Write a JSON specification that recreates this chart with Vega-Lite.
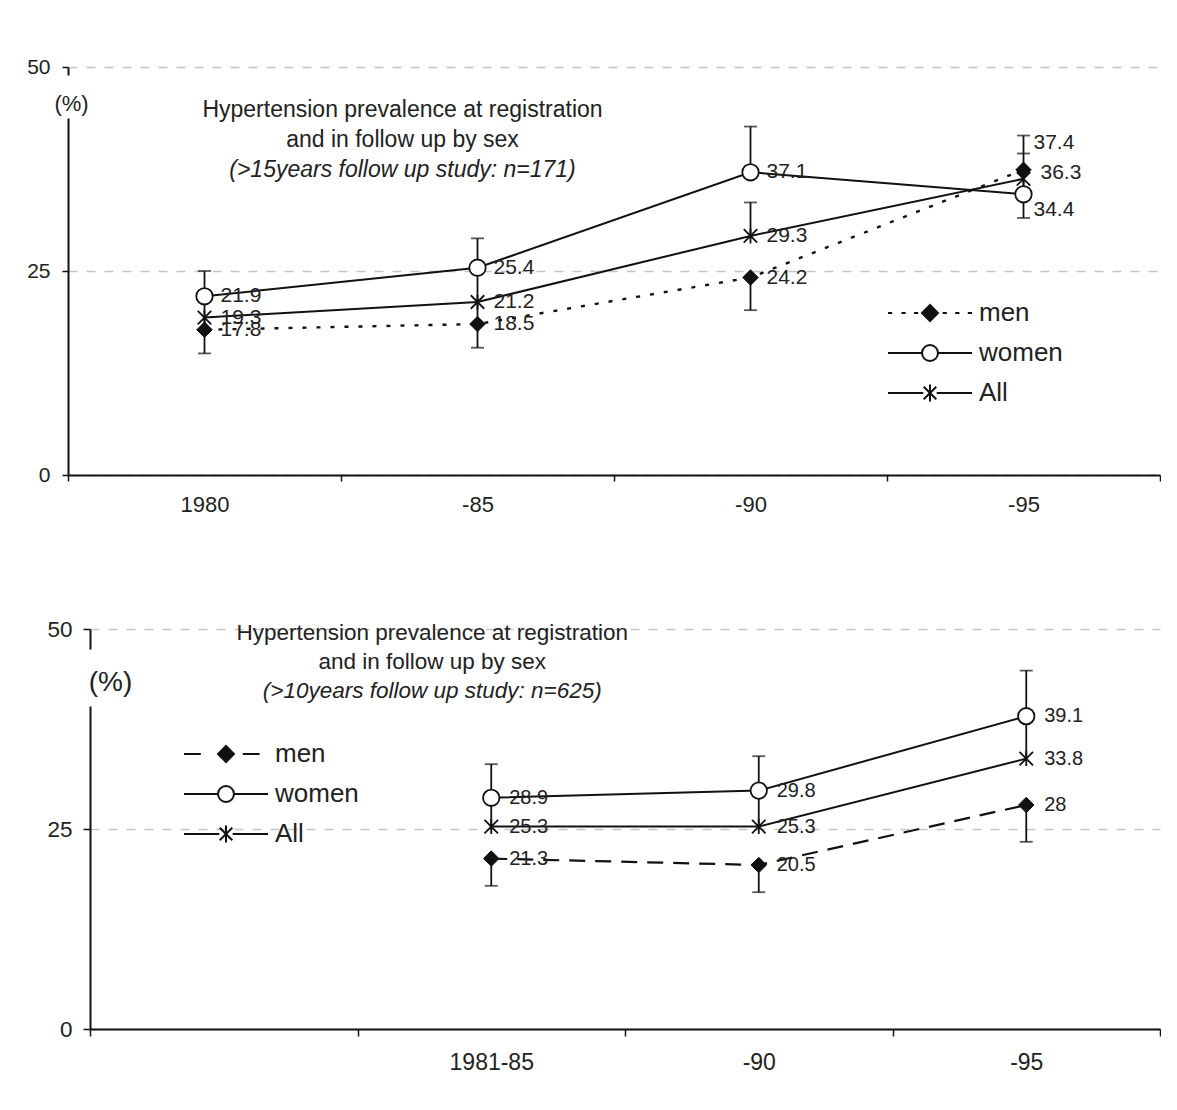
{
  "$schema": "https://vega.github.io/schema/vega-lite/v6.json",
  "background": "white",
  "padding": {"left": 26, "top": 56, "right": 0, "bottom": 0},
  "spacing": 103,
  "config": {"view": {"stroke": null}, "font": "Liberation Sans"},
  "resolve": {"scale": {"shape": "independent", "fill": "independent", "stroke": "independent"}, "legend": {"shape": "independent", "fill": "independent", "stroke": "independent"}},
  "datasets": {
    "top": [
      {"x": "1980", "series": "men", "value": 17.8},
      {"x": "-85", "series": "men", "value": 18.5},
      {"x": "-90", "series": "men", "value": 24.2},
      {"x": "-95", "series": "men", "value": 37.4},
      {"x": "1980", "series": "women", "value": 21.9},
      {"x": "-85", "series": "women", "value": 25.4},
      {"x": "-90", "series": "women", "value": 37.1},
      {"x": "-95", "series": "women", "value": 34.4},
      {"x": "1980", "series": "All", "value": 19.3},
      {"x": "-85", "series": "All", "value": 21.2},
      {"x": "-90", "series": "All", "value": 29.3},
      {"x": "-95", "series": "All", "value": 36.3}
    ],
    "topErr": [
      {"x": "1980", "lo": 14.9, "hi": 25.0},
      {"x": "-85", "lo": 15.6, "hi": 29.0},
      {"x": "-90", "lo": 37.1, "hi": 42.7},
      {"x": "-90", "lo": 29.3, "hi": 33.4},
      {"x": "-90", "lo": 20.2, "hi": 24.2},
      {"x": "-95", "lo": 31.5, "hi": 41.6}
    ],
    "topCap": [
      {"x": "1980", "value": 14.9},
      {"x": "1980", "value": 25.0},
      {"x": "-85", "value": 15.6},
      {"x": "-85", "value": 29.0},
      {"x": "-90", "value": 42.7},
      {"x": "-90", "value": 33.4},
      {"x": "-90", "value": 20.2},
      {"x": "-95", "value": 41.6},
      {"x": "-95", "value": 39.4},
      {"x": "-95", "value": 31.5}
    ],
    "bot": [
      {"x": "1981-85", "series": "men", "value": 21.3},
      {"x": "-90", "series": "men", "value": 20.5},
      {"x": "-95", "series": "men", "value": 28},
      {"x": "1981-85", "series": "women", "value": 28.9},
      {"x": "-90", "series": "women", "value": 29.8},
      {"x": "-95", "series": "women", "value": 39.1},
      {"x": "1981-85", "series": "All", "value": 25.3},
      {"x": "-90", "series": "All", "value": 25.3},
      {"x": "-95", "series": "All", "value": 33.8}
    ],
    "botErr": [
      {"x": "1981-85", "lo": 25.3, "hi": 33.1},
      {"x": "1981-85", "lo": 17.9, "hi": 21.3},
      {"x": "-90", "lo": 25.3, "hi": 34.1},
      {"x": "-90", "lo": 17.1, "hi": 20.5},
      {"x": "-95", "lo": 33.8, "hi": 44.8},
      {"x": "-95", "lo": 23.4, "hi": 28}
    ],
    "botCap": [
      {"x": "1981-85", "value": 33.1},
      {"x": "1981-85", "value": 17.9},
      {"x": "-90", "value": 34.1},
      {"x": "-90", "value": 17.1},
      {"x": "-95", "value": 44.8},
      {"x": "-95", "value": 23.4}
    ]
  },
  "vconcat": [
    {
      "width": 1092,
      "height": 408,
      "encoding": {
        "x": {"field": "x", "type": "nominal",
          "scale": {"type": "band", "domain": ["1980", "-85", "-90", "-95"], "paddingInner": 0, "paddingOuter": 0},
          "axis": {"title": null, "tickBand": "extent", "tickSize": 6, "tickColor": "#111", "tickWidth": 1.5, "domainColor": "#111", "domainWidth": 2, "labelPadding": 13, "labelFontSize": 22, "labelFont": "Liberation Sans", "labelColor": "#222", "labelAngle": 0, "grid": false}}
      },
      "layer": [
        {"data": {"name": "topErr"},
         "mark": {"type": "rule", "color": "#111", "strokeWidth": 1.8},
         "encoding": {
           "y": {"field": "lo", "type": "quantitative", "title": "(%)", "scale": {"domain": [0, 50], "nice": false},
             "axis": {"titleAngle": 0, "titleX": 3, "titleY": 36, "titleAlign": "center", "titleBaseline": "middle", "titleFontSize": 22, "titleFontWeight": "normal", "titleFont": "Liberation Sans", "titleColor": "#222",
               "values": [0, 25, 50], "tickSize": 6, "tickColor": "#111", "tickWidth": 1.5, "labelPadding": 12, "labelFontSize": 21, "labelFont": "Liberation Sans", "labelColor": "#222",
               "domainColor": "#111", "domainWidth": 2, "domainDash": [357, 43, 9, 400],
               "grid": true, "gridDash": [9, 9], "gridColor": "#c4c4c4", "gridWidth": 1.5}},
           "y2": {"field": "hi"}}},
        {"data": {"name": "topCap"},
         "mark": {"type": "tick", "orient": "horizontal", "size": 13, "thickness": 1.8, "color": "#111"},
         "encoding": {"y": {"field": "value", "type": "quantitative", "title": "(%)", "scale": {"domain": [0, 50], "nice": false}}}},
        {"data": {"name": "top"},
         "transform": [{"filter": "datum.series != 'men'"}],
         "mark": {"type": "line", "color": "#111", "strokeWidth": 2},
         "encoding": {"y": {"field": "value", "type": "quantitative", "title": "(%)", "scale": {"domain": [0, 50], "nice": false}}, "detail": {"field": "series"}, "order": {"value": null}}},
        {"data": {"name": "top"},
         "transform": [{"filter": "datum.series == 'men'"}],
         "mark": {"type": "line", "color": "#111", "strokeWidth": 2.4, "strokeDash": [4, 10]},
         "encoding": {"y": {"field": "value", "type": "quantitative", "title": "(%)", "scale": {"domain": [0, 50], "nice": false}}, "order": {"value": null}}},
        {"data": {"name": "top"},
         "transform": [{"filter": "datum.series == 'All'"}],
         "mark": {"type": "point", "shape": "M-0.9,-0.9L0.9,0.9M-0.9,0.9L0.9,-0.9M0,-1V1", "filled": false, "stroke": "#111", "strokeWidth": 1.8, "size": 225, "opacity": 1},
         "encoding": {"y": {"field": "value", "type": "quantitative", "title": "(%)", "scale": {"domain": [0, 50], "nice": false}}}},
        {"data": {"name": "top"},
         "transform": [{"filter": "datum.series == 'women'"}],
         "mark": {"type": "point", "shape": "circle", "filled": true, "fill": "#fff", "stroke": "#111", "strokeWidth": 1.8, "size": 270, "opacity": 1},
         "encoding": {"y": {"field": "value", "type": "quantitative", "title": "(%)", "scale": {"domain": [0, 50], "nice": false}}}},
        {"data": {"name": "top"},
         "transform": [{"filter": "datum.series == 'men'"}],
         "mark": {"type": "point", "shape": "diamond", "filled": true, "fill": "#111", "stroke": "#111", "strokeWidth": 1, "size": 240, "opacity": 1},
         "encoding": {"y": {"field": "value", "type": "quantitative", "title": "(%)", "scale": {"domain": [0, 50], "nice": false}}}},
        {"data": {"name": "top"},
         "transform": [{"filter": "datum.x != '-95'"}],
         "mark": {"type": "text", "align": "left", "baseline": "middle", "dx": 16, "fontSize": 21, "font": "Liberation Sans", "color": "#222"},
         "encoding": {"y": {"field": "value", "type": "quantitative", "title": "(%)", "scale": {"domain": [0, 50], "nice": false}}, "text": {"field": "value", "type": "nominal"}}},
        {"data": {"name": "top"},
         "transform": [{"filter": "datum.x == '-95' && datum.series == 'men'"}],
         "mark": {"type": "text", "align": "left", "baseline": "middle", "dx": 10, "dy": -27, "fontSize": 21, "font": "Liberation Sans", "color": "#222"},
         "encoding": {"y": {"field": "value", "type": "quantitative", "title": "(%)", "scale": {"domain": [0, 50], "nice": false}}, "text": {"field": "value", "type": "nominal"}}},
        {"data": {"name": "top"},
         "transform": [{"filter": "datum.x == '-95' && datum.series == 'All'"}],
         "mark": {"type": "text", "align": "left", "baseline": "middle", "dx": 17, "dy": -6, "fontSize": 21, "font": "Liberation Sans", "color": "#222"},
         "encoding": {"y": {"field": "value", "type": "quantitative", "title": "(%)", "scale": {"domain": [0, 50], "nice": false}}, "text": {"field": "value", "type": "nominal"}}},
        {"data": {"name": "top"},
         "transform": [{"filter": "datum.x == '-95' && datum.series == 'women'"}],
         "mark": {"type": "text", "align": "left", "baseline": "middle", "dx": 10, "dy": 16, "fontSize": 21, "font": "Liberation Sans", "color": "#222"},
         "encoding": {"y": {"field": "value", "type": "quantitative", "title": "(%)", "scale": {"domain": [0, 50], "nice": false}}, "text": {"field": "value", "type": "nominal"}}},
        {"data": {"name": "top"},
         "transform": [{"filter": "datum.x == '1980' && datum.series == 'men'"}],
         "mark": {"type": "text", "text": "Hypertension prevalence at registration", "align": "center", "baseline": "middle", "dx": -75, "fontSize": 23, "font": "Liberation Sans", "color": "#222"},
         "encoding": {"x": {"datum": "-85"}, "y": {"datum": 44.7}}},
        {"data": {"name": "top"},
         "transform": [{"filter": "datum.x == '1980' && datum.series == 'men'"}],
         "mark": {"type": "text", "text": "and in follow up by sex", "align": "center", "baseline": "middle", "dx": -75, "fontSize": 23, "font": "Liberation Sans", "color": "#222"},
         "encoding": {"x": {"datum": "-85"}, "y": {"datum": 41.1}}},
        {"data": {"name": "top"},
         "transform": [{"filter": "datum.x == '1980' && datum.series == 'men'"}],
         "mark": {"type": "text", "text": "(>15years follow up study: n=171)", "align": "center", "baseline": "middle", "dx": -75, "fontSize": 23, "fontStyle": "italic", "font": "Liberation Sans", "color": "#222"},
         "encoding": {"x": {"datum": "-85"}, "y": {"datum": 37.4}}},
        {"data": {"name": "top"},
         "transform": [{"filter": "false"}],
         "mark": {"type": "point", "filled": true, "strokeWidth": 2, "opacity": 1},
         "encoding": {
           "shape": {"field": "series", "type": "nominal",
             "scale": {"domain": ["men", "women", "All"], "range": [
               "M-1,0h0.1M-0.68,0h0.1M-0.38,0h0.1M0.3,0h0.1M0.6,0h0.1M0.9,0h0.1M0,-0.19L0.19,0L0,0.19L-0.19,0Z",
               "M-1,0H-0.19A0.19,0.19,0,1,1,0.19,0A0.19,0.19,0,1,1,-0.19,0M0.19,0H1",
               "M-1,0H-0.16M0.16,0H1M-0.15,-0.15L0.15,0.15M-0.15,0.15L0.15,-0.15M0,-0.2V0.2"]},
             "legend": {"orient": "none", "legendX": 819, "legendY": 226, "title": null, "symbolSize": 7056, "clipHeight": 40, "rowPadding": 0, "padding": 0, "labelFontSize": 26, "labelFont": "Liberation Sans", "labelColor": "#222", "labelOffset": 6, "symbolStrokeWidth": 2, "symbolOpacity": 1}},
           "fill": {"field": "series", "type": "nominal", "scale": {"domain": ["men", "women", "All"], "range": ["#111", "#fff", "#fff"]}},
           "stroke": {"field": "series", "type": "nominal", "scale": {"domain": ["men", "women", "All"], "range": ["#111", "#111", "#111"]}}
         }}
      ]
    },
    {
      "width": 1092,
      "height": 400,
      "encoding": {
        "x": {"field": "x", "type": "nominal",
          "scale": {"type": "band", "domain": ["", "1981-85", "-90", "-95"], "range": [22, 1092], "paddingInner": 0, "paddingOuter": 0},
          "axis": {"title": null, "tickBand": "extent", "tickSize": 7, "tickColor": "#111", "tickWidth": 1.5, "domainColor": "#111", "domainWidth": 2, "labelPadding": 15, "labelFontSize": 23, "labelFont": "Liberation Sans", "labelColor": "#222", "labelAngle": 0, "grid": false}}
      },
      "layer": [
        {"data": {"name": "botErr"},
         "mark": {"type": "rule", "color": "#111", "strokeWidth": 1.8},
         "encoding": {
           "y": {"field": "lo", "type": "quantitative", "title": "(%)", "scale": {"domain": [0, 50], "nice": false},
             "axis": {"offset": -22, "titleAngle": 0, "titleX": 20, "titleY": 53, "titleAlign": "center", "titleBaseline": "middle", "titleFontSize": 28, "titleFontWeight": "normal", "titleFont": "Liberation Sans", "titleColor": "#222",
               "values": [0, 25, 50], "tickSize": 7, "tickColor": "#111", "tickWidth": 1.5, "labelPadding": 11, "labelFontSize": 22.5, "labelFont": "Liberation Sans", "labelColor": "#222",
               "domainColor": "#111", "domainWidth": 2, "domainDash": [323, 57, 20, 400],
               "grid": true, "gridDash": [9, 9], "gridColor": "#c4c4c4", "gridWidth": 1.5}},
           "y2": {"field": "hi"}}},
        {"data": {"name": "botCap"},
         "mark": {"type": "tick", "orient": "horizontal", "size": 13, "thickness": 1.8, "color": "#111"},
         "encoding": {"y": {"field": "value", "type": "quantitative", "title": "(%)", "scale": {"domain": [0, 50], "nice": false}}}},
        {"data": {"name": "bot"},
         "transform": [{"filter": "datum.series != 'men'"}],
         "mark": {"type": "line", "color": "#111", "strokeWidth": 2},
         "encoding": {"y": {"field": "value", "type": "quantitative", "title": "(%)", "scale": {"domain": [0, 50], "nice": false}}, "detail": {"field": "series"}, "order": {"value": null}}},
        {"data": {"name": "bot"},
         "transform": [{"filter": "datum.series == 'men'"}],
         "mark": {"type": "line", "color": "#111", "strokeWidth": 2.2, "strokeDash": [16, 10]},
         "encoding": {"y": {"field": "value", "type": "quantitative", "title": "(%)", "scale": {"domain": [0, 50], "nice": false}}, "order": {"value": null}}},
        {"data": {"name": "bot"},
         "transform": [{"filter": "datum.series == 'All'"}],
         "mark": {"type": "point", "shape": "M-0.9,-0.9L0.9,0.9M-0.9,0.9L0.9,-0.9M0,-1V1", "filled": false, "stroke": "#111", "strokeWidth": 1.8, "size": 225, "opacity": 1},
         "encoding": {"y": {"field": "value", "type": "quantitative", "title": "(%)", "scale": {"domain": [0, 50], "nice": false}}}},
        {"data": {"name": "bot"},
         "transform": [{"filter": "datum.series == 'women'"}],
         "mark": {"type": "point", "shape": "circle", "filled": true, "fill": "#fff", "stroke": "#111", "strokeWidth": 1.8, "size": 270, "opacity": 1},
         "encoding": {"y": {"field": "value", "type": "quantitative", "title": "(%)", "scale": {"domain": [0, 50], "nice": false}}}},
        {"data": {"name": "bot"},
         "transform": [{"filter": "datum.series == 'men'"}],
         "mark": {"type": "point", "shape": "diamond", "filled": true, "fill": "#111", "stroke": "#111", "strokeWidth": 1, "size": 240, "opacity": 1},
         "encoding": {"y": {"field": "value", "type": "quantitative", "title": "(%)", "scale": {"domain": [0, 50], "nice": false}}}},
        {"data": {"name": "bot"},
         "mark": {"type": "text", "align": "left", "baseline": "middle", "dx": 18, "fontSize": 20, "font": "Liberation Sans", "color": "#222"},
         "encoding": {"y": {"field": "value", "type": "quantitative", "title": "(%)", "scale": {"domain": [0, 50], "nice": false}}, "text": {"field": "value", "type": "nominal"}}},
        {"data": {"name": "bot"},
         "transform": [{"filter": "datum.x == '-90' && datum.series == 'men'"}],
         "mark": {"type": "text", "text": "Hypertension prevalence at registration", "align": "center", "baseline": "middle", "dx": -59, "fontSize": 22.5, "font": "Liberation Sans", "color": "#222"},
         "encoding": {"x": {"datum": "1981-85"}, "y": {"datum": 49.5}}},
        {"data": {"name": "bot"},
         "transform": [{"filter": "datum.x == '-90' && datum.series == 'men'"}],
         "mark": {"type": "text", "text": "and in follow up by sex", "align": "center", "baseline": "middle", "dx": -59, "fontSize": 22.5, "font": "Liberation Sans", "color": "#222"},
         "encoding": {"x": {"datum": "1981-85"}, "y": {"datum": 45.9}}},
        {"data": {"name": "bot"},
         "transform": [{"filter": "datum.x == '-90' && datum.series == 'men'"}],
         "mark": {"type": "text", "text": "(>10years follow up study: n=625)", "align": "center", "baseline": "middle", "dx": -59, "fontSize": 22.5, "fontStyle": "italic", "font": "Liberation Sans", "color": "#222"},
         "encoding": {"x": {"datum": "1981-85"}, "y": {"datum": 42.25}}},
        {"data": {"name": "bot"},
         "transform": [{"filter": "false"}],
         "mark": {"type": "point", "filled": true, "strokeWidth": 2, "opacity": 1},
         "encoding": {
           "shape": {"field": "series", "type": "nominal",
             "scale": {"domain": ["men", "women", "All"], "range": [
               "M-1,0H-0.6M0.4,0H0.8M0,-0.19L0.19,0L0,0.19L-0.19,0Z",
               "M-1,0H-0.19A0.19,0.19,0,1,1,0.19,0A0.19,0.19,0,1,1,-0.19,0M0.19,0H1",
               "M-1,0H-0.16M0.16,0H1M-0.15,-0.15L0.15,0.15M-0.15,0.15L0.15,-0.15M0,-0.2V0.2"]},
             "legend": {"orient": "none", "legendX": 115, "legendY": 105, "title": null, "symbolSize": 7056, "clipHeight": 40, "rowPadding": 0, "padding": 0, "labelFontSize": 26, "labelFont": "Liberation Sans", "labelColor": "#222", "labelOffset": 6, "symbolStrokeWidth": 2, "symbolOpacity": 1}},
           "fill": {"field": "series", "type": "nominal", "scale": {"domain": ["men", "women", "All"], "range": ["#111", "#fff", "#fff"]}},
           "stroke": {"field": "series", "type": "nominal", "scale": {"domain": ["men", "women", "All"], "range": ["#111", "#111", "#111"]}}
         }}
      ]
    }
  ]
}
